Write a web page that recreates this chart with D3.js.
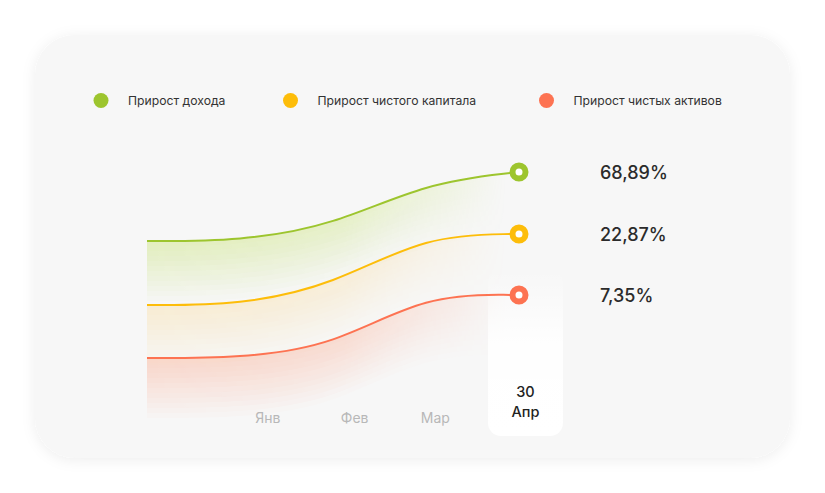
<!DOCTYPE html>
<html><head><meta charset="utf-8">
<script src="https://cdn.jsdelivr.net/npm/d3@7/dist/d3.min.js"></script>
<style>html,body{margin:0;padding:0;background:#fff;}svg{display:block;}</style>
</head><body>
<svg id="c" width="825" height="493"></svg>
<script>
// ---- data ----
const seriesNames = ["Прирост дохода", "Прирост чистого капитала", "Прирост чистых активов"];
const seriesColors = ["#9dc52e", "#fdbd0a", "#fd7352"];
const days = [0, 30, 60, 90, 120];
const incomeValues = [67.6, 67.6, 73.8, 91.0, 95.2];
const capitalValues = [42.0, 42.0, 50.0, 70.1, 70.4];
const assetValues = [20.8, 20.8, 25.6, 46.4, 46.0];
const finalLabels = ["68,89%", "22,87%", "7,35%"];
const tickLabels = ["Янв", "Фев", "Мар"];
const tickDays = [39, 67, 93];
const endLabel = ["30", "Апр"];

const FONT = "Inter, 'Noto Sans', sans-serif";
const svg = d3.select("#c");
const defs = svg.append("defs");

// card shadow
const f = defs.append("filter").attr("id","sh").attr("x","-10%").attr("y","-10%").attr("width","120%").attr("height","120%");
f.append("feDropShadow").attr("dx",0).attr("dy",2).attr("stdDeviation",7).attr("flood-color","#000").attr("flood-opacity",0.07);
svg.append("rect").attr("x",35).attr("y",35).attr("width",755).attr("height",423).attr("rx",40)
  .attr("fill","#f7f7f7").attr("filter","url(#sh)");

const x = d3.scaleLinear().domain([0,120]).range([147,519]);
const y = d3.scaleLinear().domain([0,100]).range([410,160]);

const series = [incomeValues, capitalValues, assetValues].map((vals,i)=>({
  name: seriesNames[i], color: seriesColors[i], label: finalLabels[i],
  pts: vals.map((v,j)=>({d: days[j], v}))
}));
const fillOpacity = [0.022, 0.017, 0.022];

// horizontal fade mask for fills
const mg = defs.append("linearGradient").attr("id","hfade").attr("gradientUnits","userSpaceOnUse")
  .attr("x1",x(0)).attr("x2",x(116)).attr("y1",0).attr("y2",0);
[[0,1],[0.55,0.85],[0.85,0.35],[1,0]].forEach(s=>mg.append("stop").attr("offset",s[0]).attr("stop-color","#fff").attr("stop-opacity",s[1]));
defs.append("mask").attr("id","m").append("rect").attr("x",0).attr("y",0).attr("width",825).attr("height",493).attr("fill","url(#hfade)");

const curve = d3.curveBasis;
const gFill = svg.append("g").attr("mask","url(#m)");
const N = 12;
series.forEach((s,si)=>{
  for(let k=1;k<=N;k++){
    const area = d3.area().curve(curve)
      .x(p=>x(p.d)).y1(p=>y(p.v)).y0(p=>y(p.v)+k*5);
    gFill.append("path").attr("d",area(s.pts)).attr("fill",s.color).attr("fill-opacity",fillOpacity[si]);
  }
});

// end date box
const bg = defs.append("linearGradient").attr("id","boxg").attr("x1",0).attr("x2",0).attr("y1",0).attr("y2",1);
[[0,0],[0.45,0.9],[1,1]].forEach(s=>bg.append("stop").attr("offset",s[0]).attr("stop-color","#fff").attr("stop-opacity",s[1]));
svg.append("rect").attr("x",x(120)-31).attr("y",270).attr("width",75).attr("height",166).attr("rx",13).attr("fill","url(#boxg)");

// lines
const line = d3.line().curve(curve).x(p=>x(p.d)).y(p=>y(p.v));
series.forEach(s=>{
  svg.append("path").attr("d",line(s.pts)).attr("fill","none").attr("stroke",s.color).attr("stroke-width",2);
});
// end markers + values
series.forEach(s=>{
  const last = s.pts[s.pts.length-1];
  svg.append("circle").attr("cx",x(last.d)).attr("cy",y(last.v)).attr("r",6.5)
    .attr("fill","#fff").attr("stroke",s.color).attr("stroke-width",6);
  svg.append("text").attr("x",600).attr("y",y(last.v)+7).attr("font-family",FONT).attr("font-size",18)
    .attr("font-weight",500).attr("fill","#2b2b2b").text(s.label);
});

// x axis labels
svg.append("g").selectAll("text").data(tickLabels).join("text")
  .attr("x",(d,i)=>x(tickDays[i])).attr("y",423).attr("text-anchor","middle")
  .attr("font-family",FONT).attr("font-size",14).attr("fill","#b8b8b8").text(d=>d);
endLabel.forEach((t,i)=>{
  svg.append("text").attr("x",x(120)+6.5).attr("y",397+i*20).attr("text-anchor","middle")
    .attr("font-family",FONT).attr("font-size",14.5).attr("font-weight",500).attr("fill","#222").text(t);
});

// legend
const legX = [101, 290.5, 546.5];
const leg = svg.append("g");
series.forEach((s,i)=>{
  leg.append("circle").attr("cx",legX[i]).attr("cy",100.5).attr("r",7.5).attr("fill",s.color);
  leg.append("text").attr("x",legX[i]+27).attr("y",105).attr("font-family",FONT).attr("font-size",12.2)
    .attr("fill","#333").text(s.name);
});
</script>
</body></html>
